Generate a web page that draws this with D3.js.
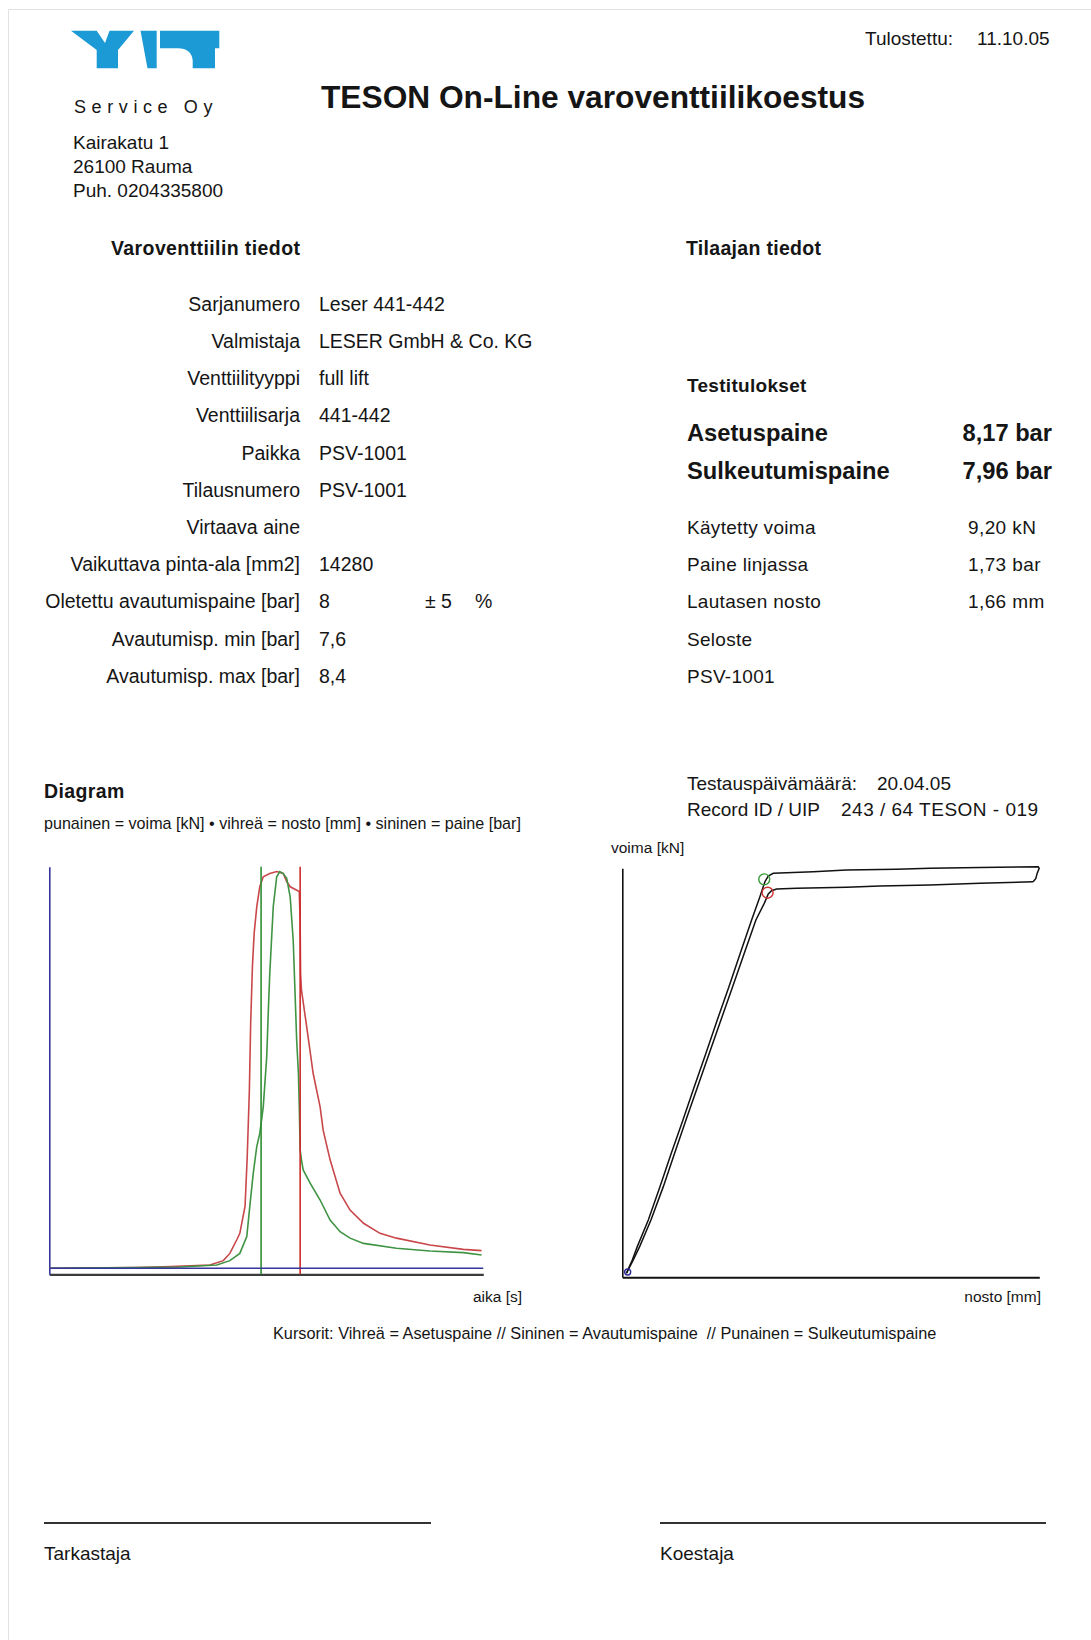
<!DOCTYPE html>
<html>
<head>
<meta charset="utf-8">
<script src="https://cdn.jsdelivr.net/npm/d3@7"></script>
<style>
  html, body { margin: 0; padding: 0; background: #fff; }
  svg { display: block; }
  text { font-family: "Liberation Sans", Arial, sans-serif; fill: #151515; }
</style>
</head>
<body>
<div id="chart"></div>
<script>
// ---------------- DATA ----------------
// Left diagram: time in % of record, values in % of full scale
const forceT = [0, 20, 28, 37.0, 40.1, 41.6, 43.2, 43.9, 45.1, 45.6, 46.1, 46.4, 46.8, 47.2, 47.8, 48.5, 49.3, 50.8, 52.4, 53.9, 54.7, 55.5, 57.6, 57.8, 57.9, 58.1, 59.3, 60.8, 62.4, 63.1, 64.7, 67.0, 69.3, 72.4, 76.2, 80.0, 87.7, 95.4, 99.6];
const forceV = [0, 0.2, 0.4, 0.8, 1.9, 3.7, 7.1, 8.7, 15.4, 27.6, 44.4, 61.0, 75.1, 83.4, 90.0, 95.0, 97.5, 98.3, 98.8, 98.3, 96.3, 95.0, 93.8, 85.9, 73.4, 69.3, 60.2, 48.5, 40.2, 34.4, 27.0, 18.7, 14.5, 11.2, 8.7, 7.5, 5.8, 4.7, 4.4];
const liftT = [0, 20, 30, 38.6, 41.6, 43.9, 45.5, 46.2, 47.0, 47.8, 48.5, 49.3, 50.1, 50.5, 50.8, 51.2, 51.6, 52.4, 53.1, 53.9, 54.7, 55.5, 56.2, 56.6, 57.0, 57.4, 57.6, 57.8, 58.1, 58.5, 60.1, 62.4, 64.7, 67.0, 69.3, 72.4, 80.0, 87.7, 95.4, 99.6];
const liftV = [0, 0.2, 0.3, 0.8, 1.9, 3.7, 7.9, 15.4, 23.7, 30.3, 33.6, 40.2, 52.7, 65.1, 73.4, 81.7, 90.0, 97.5, 98.8, 98.3, 97.1, 92.5, 81.7, 69.3, 56.8, 48.5, 40.2, 29.5, 27.0, 24.5, 21.2, 17.0, 12.0, 9.1, 7.5, 6.2, 5.0, 4.3, 3.9, 3.3];
const pressureT = [0, 100];
const pressureV = [0, 0];
const cursorTimes = [48.8, 57.8];          // green = set pressure, red = reseat pressure
const cursorColors = ["#2f8f35", "#cc2b2b"];

// Right diagram: lift (x) vs force (y), hysteresis loop
const openX  = [0, 0.142, 0.263, 0.530, 0.812, 1.086, 1.369, 1.643, 1.926, 2.200, 2.483, 2.757, 3.032, 3.233, 3.354, 3.435, 3.556, 4.525, 5.332, 6.542, 7.350, 8.560, 9.973, 9.997, 9.948, 9.916, 9.852];
const openY  = [0, 0.329, 0.657, 1.316, 2.139, 2.962, 3.785, 4.608, 5.431, 6.254, 7.077, 7.900, 8.723, 9.299, 9.669, 9.809, 9.875, 9.916, 9.957, 9.974, 9.999, 10.02, 10.04, 10.00, 9.875, 9.752, 9.669];
const closeX = [9.852, 8.560, 7.350, 6.139, 5.332, 4.121, 3.637, 3.516, 3.435, 3.338, 3.136, 2.854, 2.572, 2.289, 2.007, 1.724, 1.442, 1.167, 0.893, 0.594, 0.320, 0.166, 0];
const closeY = [9.669, 9.628, 9.587, 9.562, 9.530, 9.505, 9.488, 9.447, 9.365, 9.135, 8.723, 7.900, 7.077, 6.254, 5.431, 4.608, 3.785, 2.962, 2.139, 1.316, 0.657, 0.329, 0];
const markerX = [3.338, 3.419, 0.03];
const markerY = [9.727, 9.398, 0.03];
const markerColors = ["#3a9a3a", "#cc3333", "#2a2a9a"];

// Texts
const addressLines = ["Kairakatu 1", "26100 Rauma", "Puh. 0204335800"];
const valveLabels = ["Sarjanumero", "Valmistaja", "Venttiilityyppi", "Venttiilisarja", "Paikka", "Tilausnumero", "Virtaava aine", "Vaikuttava pinta-ala [mm2]", "Oletettu avautumispaine [bar]", "Avautumisp. min [bar]", "Avautumisp. max [bar]"];
const valveValues = ["Leser 441-442", "LESER GmbH & Co. KG", "full lift", "441-442", "PSV-1001", "PSV-1001", "", "14280", "8", "7,6", "8,4"];
const mainResultLabels = ["Asetuspaine", "Sulkeutumispaine"];
const mainResultValues = ["8,17 bar", "7,96 bar"];
const resultLabels = ["Käytetty voima", "Paine linjassa", "Lautasen nosto", "Seloste", "PSV-1001"];
const resultValues = ["9,20 kN", "1,73 bar", "1,66 mm", "", ""];

// ---------------- DRAW ----------------
const W = 1091, H = 1640;
const svg = d3.select("#chart").append("svg").attr("width", W).attr("height", H);
svg.append("rect").attr("width", W).attr("height", H).attr("fill", "#fff");
// page frame (top & left)
svg.append("line").attr("x1", 8.5).attr("x2", W).attr("y1", 9.5).attr("y2", 9.5).attr("stroke", "#e2e2e2");
svg.append("line").attr("x1", 8.5).attr("x2", 8.5).attr("y1", 9.5).attr("y2", H).attr("stroke", "#e2e2e2");

// Logo
const logo = svg.append("g").attr("fill", "#1b9ad6");
logo.append("path").attr("d", "M71,30.7 H96.7 L105,43 L109.5,30.7 H134 L118,50 V68.3 H96.7 V50 Z");
logo.append("path").attr("d", "M140.5,30.7 H156.7 V68.3 H147.5 Z");
logo.append("path").attr("d", "M160,30.7 H219.3 V48.3 H215 V68.3 H192.7 V60 Q191,48.3 178,48.3 H160 Z");

svg.append("text").attr("x", 74).attr("y", 113).attr("font-size", 18).attr("letter-spacing", 5.6).text("Service Oy");
svg.selectAll("text.addr").data(addressLines).enter().append("text").attr("class", "addr")
  .attr("x", 73).attr("y", (d, i) => 149 + i * 24).attr("font-size", 19).text(d => d);

svg.append("text").attr("x", 321).attr("y", 108).attr("font-size", 31.7).attr("font-weight", "bold").text("TESON On-Line varoventtiilikoestus");
svg.append("text").attr("x", 865).attr("y", 45).attr("font-size", 19).text("Tulostettu:");
svg.append("text").attr("x", 977).attr("y", 45).attr("font-size", 19).text("11.10.05");

// Valve info
const rowY = i => 310.7 + i * 37.2;
svg.append("text").attr("x", 111).attr("y", 255).attr("font-size", 19.5).attr("font-weight", "bold").attr("letter-spacing", 0.4).text("Varoventtiilin tiedot");
svg.selectAll("text.vl").data(valveLabels).enter().append("text").attr("class", "vl")
  .attr("x", 300).attr("y", (d, i) => rowY(i)).attr("text-anchor", "end").attr("font-size", 19.5).text(d => d);
svg.selectAll("text.vv").data(valveValues).enter().append("text").attr("class", "vv")
  .attr("x", 319).attr("y", (d, i) => rowY(i)).attr("font-size", 19.5).text(d => d);
svg.append("text").attr("x", 425).attr("y", rowY(8)).attr("font-size", 19.5).text("± 5");
svg.append("text").attr("x", 475).attr("y", rowY(8)).attr("font-size", 19.5).text("%");

// Customer / results
svg.append("text").attr("x", 686).attr("y", 255).attr("font-size", 19.5).attr("font-weight", "bold").attr("letter-spacing", 0.3).text("Tilaajan tiedot");
svg.append("text").attr("x", 687).attr("y", 392).attr("font-size", 19).attr("font-weight", "bold").attr("letter-spacing", 0.3).text("Testitulokset");
svg.selectAll("text.ml").data(mainResultLabels).enter().append("text").attr("class", "ml")
  .attr("x", 687).attr("y", (d, i) => 441 + i * 37.5).attr("font-size", 23.7).attr("font-weight", "bold").text(d => d);
svg.selectAll("text.mv").data(mainResultValues).enter().append("text").attr("class", "mv")
  .attr("x", 1052).attr("y", (d, i) => 441 + i * 37.5).attr("text-anchor", "end").attr("font-size", 23.7).attr("font-weight", "bold").text(d => d);
svg.selectAll("text.rl").data(resultLabels).enter().append("text").attr("class", "rl")
  .attr("x", 687).attr("y", (d, i) => rowY(6 + i)).attr("font-size", 19).attr("letter-spacing", 0.3).text(d => d);
svg.selectAll("text.rv").data(resultValues).enter().append("text").attr("class", "rv")
  .attr("x", 968).attr("y", (d, i) => rowY(6 + i)).attr("font-size", 19).attr("letter-spacing", 0.4).text(d => d);

svg.append("text").attr("x", 687).attr("y", 790).attr("font-size", 19).text("Testauspäivämäärä:");
svg.append("text").attr("x", 877).attr("y", 790).attr("font-size", 19).text("20.04.05");
svg.append("text").attr("x", 687).attr("y", 816).attr("font-size", 19).text("Record ID / UIP");
svg.append("text").attr("x", 841).attr("y", 816).attr("font-size", 19).attr("letter-spacing", 0.5).text("243 / 64 TESON - 019");

svg.append("text").attr("x", 44).attr("y", 798).attr("font-size", 19.5).attr("font-weight", "bold").attr("letter-spacing", 0.4).text("Diagram");
svg.append("text").attr("x", 44).attr("y", 829).attr("font-size", 16.1).text("punainen = voima [kN] • vihreä = nosto [mm] • sininen = paine [bar]");

// ---------- Left diagram ----------
const xL = d3.scaleLinear().domain([0, 100]).range([49.3, 483.3]);
const yL = d3.scaleLinear().domain([-1.5, 100]).range([1274.3, 866.7]);
const gL = svg.append("g");
const xAxisL = gL.append("g").attr("transform", `translate(0,${yL(-1.5)})`)
  .call(d3.axisBottom(xL).tickValues([]).tickSizeOuter(0));
xAxisL.select(".domain").attr("stroke", "#3c3c3c").attr("stroke-width", 2.2);
const yAxisL = gL.append("g").attr("transform", `translate(${xL(0)},0)`)
  .call(d3.axisLeft(yL).tickValues([]).tickSizeOuter(0));
yAxisL.select(".domain").attr("stroke", "#35359a").attr("stroke-width", 1.6);

const lineL = d3.line().x(d => xL(d[0])).y(d => yL(d[1]));
gL.append("path").datum(d3.zip(forceT, forceV)).attr("d", lineL)
  .attr("fill", "none").attr("stroke", "#c9474a").attr("stroke-width", 1.6);
gL.append("path").datum(d3.zip(liftT, liftV)).attr("d", lineL)
  .attr("fill", "none").attr("stroke", "#3f9443").attr("stroke-width", 1.6);
gL.selectAll("line.cursor").data(cursorTimes).enter().append("line").attr("class", "cursor")
  .attr("x1", d => xL(d)).attr("x2", d => xL(d))
  .attr("y1", yL(100)).attr("y2", yL(-1.5))
  .attr("stroke", (d, i) => cursorColors[i]).attr("stroke-width", 1.6);
gL.append("path").datum(d3.zip(pressureT, pressureV)).attr("d", lineL)
  .attr("fill", "none").attr("stroke", "#35359a").attr("stroke-width", 1.6);
svg.append("text").attr("x", 522).attr("y", 1302).attr("text-anchor", "end").attr("font-size", 15.5).text("aika [s]");

// ---------- Right diagram ----------
const xR = d3.scaleLinear().domain([-0.1, 10]).range([622.3, 1039.3]);
const yR = d3.scaleLinear().domain([-0.1, 10]).range([1277.3, 868.3]);
const gR = svg.append("g");
const xAxisR = gR.append("g").attr("transform", `translate(0,${yR(-0.1)})`)
  .call(d3.axisBottom(xR).tickValues([]).tickSizeOuter(0));
xAxisR.select(".domain").attr("stroke", "#111").attr("stroke-width", 2);
const yAxisR = gR.append("g").attr("transform", `translate(${xR(-0.1)},0)`)
  .call(d3.axisLeft(yR).tickValues([]).tickSizeOuter(0));
yAxisR.select(".domain").attr("stroke", "#111").attr("stroke-width", 1.6);

const lineR = d3.line().x(d => xR(d[0])).y(d => yR(d[1]));
gR.append("path").datum(d3.zip(openX, openY)).attr("d", lineR)
  .attr("fill", "none").attr("stroke", "#111").attr("stroke-width", 1.5);
gR.append("path").datum(d3.zip(closeX, closeY)).attr("d", lineR)
  .attr("fill", "none").attr("stroke", "#111").attr("stroke-width", 1.5);
gR.selectAll("circle.mk").data(d3.zip(markerX, markerY)).enter().append("circle").attr("class", "mk")
  .attr("cx", d => xR(d[0])).attr("cy", d => yR(d[1]))
  .attr("r", (d, i) => i === 2 ? 3 : 5.5)
  .attr("fill", "none").attr("stroke", (d, i) => markerColors[i]).attr("stroke-width", 1.4);
svg.append("text").attr("x", 611).attr("y", 853).attr("font-size", 15.5).text("voima [kN]");
svg.append("text").attr("x", 1041).attr("y", 1302).attr("text-anchor", "end").attr("font-size", 15.5).text("nosto [mm]");

svg.append("text").attr("x", 273).attr("y", 1339).attr("font-size", 16.3).attr("xml:space", "preserve")
  .text("Kursorit: Vihreä = Asetuspaine // Sininen = Avautumispaine  // Punainen = Sulkeutumispaine");

// Signatures
const sigX = [[44, 431], [660, 1046]];
const sigNames = ["Tarkastaja", "Koestaja"];
svg.selectAll("line.sig").data(sigX).enter().append("line").attr("class", "sig")
  .attr("x1", d => d[0]).attr("x2", d => d[1]).attr("y1", 1523).attr("y2", 1523)
  .attr("stroke", "#333").attr("stroke-width", 2.2);
svg.selectAll("text.sig").data(sigNames).enter().append("text").attr("class", "sig")
  .attr("x", (d, i) => sigX[i][0]).attr("y", 1560).attr("font-size", 19).text(d => d);
</script>
</body>
</html>
